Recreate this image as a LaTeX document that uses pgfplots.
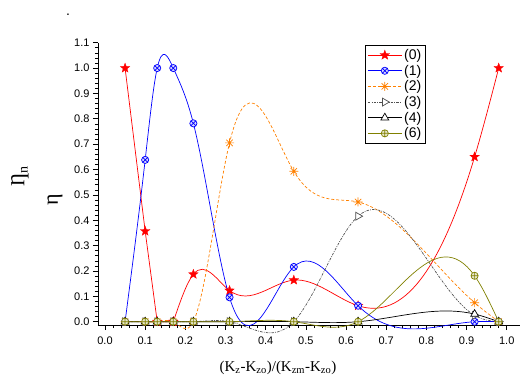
\documentclass[border=0pt]{standalone}
\usepackage{fontspec}
\setmainfont{Liberation Sans}
\newfontfamily\tnr{Liberation Serif}
\usepackage{pgfplots}
\pgfplotsset{compat=1.18}
\definecolor{cOrange}{RGB}{255,128,0}
\definecolor{cOlive}{RGB}{128,128,0}
\definecolor{cGray}{RGB}{80,80,80}
\pgfdeclareplotmark{fstar}{%
  \pgfpathmoveto{\pgfpointpolar{90}{\pgfplotmarksize}}%
  \pgfpathlineto{\pgfpointpolar{126}{0.42\pgfplotmarksize}}%
  \pgfpathlineto{\pgfpointpolar{162}{\pgfplotmarksize}}%
  \pgfpathlineto{\pgfpointpolar{198}{0.42\pgfplotmarksize}}%
  \pgfpathlineto{\pgfpointpolar{234}{\pgfplotmarksize}}%
  \pgfpathlineto{\pgfpointpolar{270}{0.42\pgfplotmarksize}}%
  \pgfpathlineto{\pgfpointpolar{306}{\pgfplotmarksize}}%
  \pgfpathlineto{\pgfpointpolar{342}{0.42\pgfplotmarksize}}%
  \pgfpathlineto{\pgfpointpolar{18}{\pgfplotmarksize}}%
  \pgfpathlineto{\pgfpointpolar{54}{0.42\pgfplotmarksize}}%
  \pgfpathclose\pgfusepathqfillstroke}
\pgfdeclareplotmark{ast8}{%
  \pgfpathmoveto{\pgfpointpolar{0}{\pgfplotmarksize}}\pgfpathlineto{\pgfpointpolar{180}{\pgfplotmarksize}}%
  \pgfpathmoveto{\pgfpointpolar{45}{\pgfplotmarksize}}\pgfpathlineto{\pgfpointpolar{225}{\pgfplotmarksize}}%
  \pgfpathmoveto{\pgfpointpolar{90}{\pgfplotmarksize}}\pgfpathlineto{\pgfpointpolar{270}{\pgfplotmarksize}}%
  \pgfpathmoveto{\pgfpointpolar{135}{\pgfplotmarksize}}\pgfpathlineto{\pgfpointpolar{315}{\pgfplotmarksize}}%
  \pgfusepathqstroke}
% ---- natural cubic spline plot handler (x-parameterised, like Origin's spline) ----
\makeatletter
\newcount\xs@n
\newcount\xs@i
\def\xs@get#1#2{\csname xs@#1@\number\numexpr#2\relax\endcsname}
\def\xs@set#1#2#3{\expandafter\xdef\csname xs@#1@\number\numexpr#2\relax\endcsname{#3}}
\def\xs@point#1{%
  \pgf@process{#1}%
  \global\advance\xs@n by 1
  \xs@set{x}{\xs@n}{\pgf@sys@tonumber\pgf@x}%
  \xs@set{y}{\xs@n}{\pgf@sys@tonumber\pgf@y}%
}
\def\pgfplothandlerxspline{%
  \def\pgf@plotstreamstart{%
    \global\xs@n=0
    \global\let\pgf@plotstreampoint=\xs@point
    \global\let\pgf@plotstreamspecial=\pgfutil@gobble
    \global\let\pgf@plotstreamend=\xs@end
  }%
}
\def\xs@loopA{%
  \ifnum\xs@i<\xs@n
    \pgfmathsetmacro\xs@t{(\xs@get{x}{\xs@i+1})-(\xs@get{x}{\xs@i})}%
    \xs@set{h}{\xs@i}{\xs@t}%
    \pgfmathsetmacro\xs@t{((\xs@get{y}{\xs@i+1})-(\xs@get{y}{\xs@i}))/(\xs@get{h}{\xs@i})}%
    \xs@set{s}{\xs@i}{\xs@t}%
    \advance\xs@i by 1
    \expandafter\xs@loopA
  \fi}
\def\xs@loopB{%
  \ifnum\xs@i<\xs@n
    \pgfmathsetmacro\xs@den{2*((\xs@get{h}{\xs@i-1})+(\xs@get{h}{\xs@i}))-(\xs@get{h}{\xs@i-1})*(\xs@get{cp}{\xs@i-1})}%
    \pgfmathsetmacro\xs@t{(\xs@get{h}{\xs@i})/\xs@den}%
    \xs@set{cp}{\xs@i}{\xs@t}%
    \pgfmathsetmacro\xs@t{(6*((\xs@get{s}{\xs@i})-(\xs@get{s}{\xs@i-1}))-(\xs@get{h}{\xs@i-1})*(\xs@get{dp}{\xs@i-1}))/\xs@den}%
    \xs@set{dp}{\xs@i}{\xs@t}%
    \advance\xs@i by 1
    \expandafter\xs@loopB
  \fi}
\def\xs@loopC{%
  \ifnum\xs@i>1
    \pgfmathsetmacro\xs@t{(\xs@get{dp}{\xs@i})-(\xs@get{cp}{\xs@i})*(\xs@get{M}{\xs@i+1})}%
    \xs@set{M}{\xs@i}{\xs@t}%
    \advance\xs@i by -1
    \expandafter\xs@loopC
  \fi}
\def\xs@loopD{%
  \ifnum\xs@i<\xs@n
    \pgfmathsetmacro\xs@t{(\xs@get{s}{\xs@i})-(\xs@get{h}{\xs@i})*(2*(\xs@get{M}{\xs@i})+(\xs@get{M}{\xs@i+1}))/6}%
    \xs@set{m}{\xs@i}{\xs@t}%
    \advance\xs@i by 1
    \expandafter\xs@loopD
  \else
    \pgfmathsetmacro\xs@t{(\xs@get{s}{\xs@n-1})+(\xs@get{h}{\xs@n-1})*((\xs@get{M}{\xs@n-1})+2*(\xs@get{M}{\xs@n}))/6}%
    \xs@set{m}{\xs@n}{\xs@t}%
  \fi}
\def\xs@loopE{%
  \ifnum\xs@i<\xs@n
    \pgfmathsetmacro\xs@hh{\xs@get{h}{\xs@i}}%
    \pgfmathsetmacro\xs@ax{(\xs@get{x}{\xs@i})+\xs@hh/3}%
    \pgfmathsetmacro\xs@ay{(\xs@get{y}{\xs@i})+(\xs@get{m}{\xs@i})*\xs@hh/3}%
    \pgfmathsetmacro\xs@bx{(\xs@get{x}{\xs@i+1})-\xs@hh/3}%
    \pgfmathsetmacro\xs@by{(\xs@get{y}{\xs@i+1})-(\xs@get{m}{\xs@i+1})*\xs@hh/3}%
    \pgfpathcurveto{\pgfqpoint{\xs@ax pt}{\xs@ay pt}}{\pgfqpoint{\xs@bx pt}{\xs@by pt}}%
      {\pgfqpoint{\xs@get{x}{\xs@i+1}pt}{\xs@get{y}{\xs@i+1}pt}}%
    \advance\xs@i by 1
    \expandafter\xs@loopE
  \fi}
\def\xs@end{%
  \ifnum\xs@n>1
    \xs@i=1 \xs@loopA
    \xs@set{M}{1}{0}\xs@set{M}{\xs@n}{0}%
    \xs@set{cp}{1}{0}\xs@set{dp}{1}{0}%
    \ifnum\xs@n>2
      \xs@i=2 \xs@loopB
      \xs@i=\numexpr\xs@n-1\relax \xs@loopC
    \fi
    \xs@i=1 \xs@loopD
    \pgf@plot@first@action{\pgfqpoint{\xs@get{x}{1}pt}{\xs@get{y}{1}pt}}%
    \xs@i=1 \xs@loopE
  \fi}
\tikzset{xspline/.code={\let\tikz@plot@handler=\pgfplothandlerxspline}}
\makeatother
\begin{document}
\begin{tikzpicture}
\useasboundingbox (-98pt,-55pt) rectangle (427pt,325pt);
\begin{axis}[
  at={(0pt,0pt)}, anchor=south west,
  scale only axis, width=422pt, height=282.3pt,
  xmin=-0.0174, xmax=1.033, ymin=-0.013, ymax=1.1,
  axis x line*=bottom, axis y line*=left,
  axis line style={black, line width=0.8pt},
  tick align=outside,
  major tick length=5pt, minor tick length=3pt,
  tick style={black, line width=0.6pt},
  xtick={0,0.1,0.2,0.3,0.4,0.5,0.6,0.7,0.8,0.9,1.0},
  ytick={0,0.1,0.2,0.3,0.4,0.5,0.6,0.7,0.8,0.9,1.0,1.1},
  minor x tick num=4, minor y tick num=4,
  tick label style={font=\fontsize{11}{13}\selectfont},
  xticklabel style={yshift=-3pt},
  /pgf/number format/.cd, fixed, fixed zerofill, precision=1, assume math mode=true,
  /pgfplots/.cd,
  clip=false,
  every axis plot/.append style={line width=0.7pt},
  legend style={at={(0.633,0.992)}, anchor=north west, draw=black, line width=0.7pt,
    font=\fontsize{14}{15}\selectfont, row sep=0pt, inner sep=2pt},
  legend cell align=left,
  legend image code/.code={\draw[mark repeat=2,mark phase=2,#1] plot coordinates {(0pt,0pt)(17pt,0pt)(34pt,0pt)};},
]
\addplot[red, sharp plot, mark=fstar, mark size=5pt, mark options={fill=red,solid,line width=0.3pt}] coordinates {
(0.05,1.0)(0.1,0.357)(0.13,0)(0.17,0)};
\addlegendentry{(0)}
\addplot[red, xspline, forget plot, mark=fstar, mark size=5pt, mark options={fill=red,solid,line width=0.3pt}] coordinates {
(0.17,0)(0.22,0.187)(0.31,0.123)(0.47,0.164)(0.63,0.063)(0.92,0.65)(0.98,1.0)};
\addplot[blue, xspline, mark=otimes*, mark size=3.6pt, mark options={fill=blue!15,solid}] coordinates {
(0.05,0)(0.1,0.638)(0.13,1.0)(0.17,1.0)(0.22,0.782)(0.31,0.096)(0.47,0.216)(0.63,0.063)(0.92,0)(0.98,0)};
\addlegendentry{(1)}
\addplot[cOrange, xspline, dash pattern=on 3pt off 2pt, mark=ast8, mark size=4.5pt, mark options={solid}] coordinates {
(0.05,0)(0.1,0)(0.13,0)(0.17,0)(0.22,0)(0.31,0.705)(0.47,0.593)(0.63,0.472)(0.92,0.075)(0.98,0)};
\addlegendentry{(2)}
\addplot[cGray, xspline, dash pattern=on 2.5pt off 1.2pt on 0.8pt off 1.2pt, mark=triangle*, mark size=4.5pt, mark options={solid,rotate=-90,fill=white}] coordinates {
(0.05,0)(0.1,0)(0.13,0)(0.17,0)(0.22,0)(0.31,0)(0.47,0)(0.63,0.416)(0.92,0.025)(0.98,0)};
\addlegendentry{(3)}
\addplot[black, xspline, mark=triangle*, mark size=4.5pt, mark options={solid,fill=white}] coordinates {
(0.05,0)(0.1,0)(0.13,0)(0.17,0)(0.22,0)(0.31,0)(0.47,0)(0.63,0)(0.92,0.03)(0.98,0)};
\addlegendentry{(4)}
\addplot[cOlive, xspline, mark=oplus*, mark size=3.6pt, mark options={solid,fill=cOlive!20}] coordinates {
(0.05,0)(0.1,0)(0.13,0)(0.17,0)(0.22,0)(0.31,0)(0.47,0)(0.63,0)(0.92,0.181)(0.98,0)};
\addlegendentry{(6)}
\end{axis}
\node[font=\tnr\fontsize{15}{15}\selectfont] at (180pt,-43pt)
  {(K\textsubscript{z}-K\textsubscript{zo})/(K\textsubscript{zm}-K\textsubscript{zo})};
\node[rotate=90, font=\tnr\fontsize{22}{22}\selectfont] at (-43pt,125pt) {η};
\node[rotate=90, font=\tnr\fontsize{20}{20}\selectfont] at (-78pt,149pt) {Ƞ\textsubscript{n}};
\node[anchor=base, font=\fontsize{14}{14}\selectfont] at (-30pt,309pt) {.};
\end{tikzpicture}
\end{document}
